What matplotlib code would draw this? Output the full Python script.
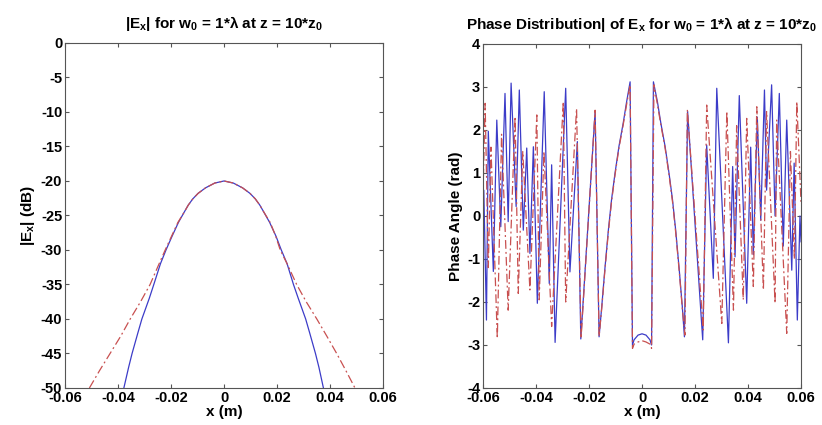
import matplotlib
matplotlib.use("Agg")
import matplotlib.pyplot as plt

plt.rcParams['font.family'] = ['Liberation Sans', 'DejaVu Sans']
plt.rcParams['font.weight'] = 'bold'
plt.rcParams['axes.unicode_minus'] = False
plt.rcParams['mathtext.fontset'] = 'custom'
plt.rcParams['mathtext.rm'] = 'Liberation Sans:bold'
plt.rcParams['mathtext.it'] = 'Liberation Sans:bold'
plt.rcParams['mathtext.bf'] = 'Liberation Sans:bold'
plt.rcParams['mathtext.default'] = 'rm'

# |Ex| in dB
mag_blue_x = [-0.0378, -0.0360, -0.0347, -0.0325, -0.0310, -0.0282, -0.0265, -0.0240, -0.0219,
              -0.0196, -0.0172, -0.0150, -0.0135, -0.0118, -0.0098, -0.0070, -0.0035, 0.0,
              0.0035, 0.0070, 0.0098, 0.0118, 0.0135, 0.0150, 0.0172, 0.0196, 0.0216,
              0.0238, 0.0262, 0.0280, 0.0308, 0.0323, 0.0345, 0.0358, 0.0375]
mag_blue_y = [-50, -47, -45, -42, -40, -37, -35, -32, -30,
              -28, -26, -24.5, -23.5, -22.6, -21.8, -21.0, -20.3, -20.0,
              -20.3, -21.0, -21.8, -22.6, -23.5, -24.5, -26, -28, -30,
              -32, -35, -37, -40, -42, -45, -47, -50]
mag_red_x = [-0.0508, -0.0470, -0.0430, -0.0390, -0.0354, -0.0315, -0.0279, -0.0245, -0.0222,
             -0.0198, -0.0174, -0.0150, -0.0135, -0.0118, -0.0098, -0.0070, -0.0035, 0.0,
             0.0035, 0.0070, 0.0098, 0.0118, 0.0135, 0.0150, 0.0174, 0.0195, 0.0212,
             0.0238, 0.0274, 0.0310, 0.0350, 0.0388, 0.0425, 0.0460, 0.0494]
mag_red_y = [-50, -47.5, -45, -42.5, -40, -37.5, -35, -32, -30,
             -28, -26, -24.5, -23.5, -22.6, -21.8, -21.0, -20.3, -20.0,
             -20.3, -21.0, -21.8, -22.6, -23.5, -24.5, -26, -28, -30,
             -32, -35, -37.5, -40, -42.5, -45, -47.5, -50]

# phase (rad)
ph_blue_x = [-0.0600, -0.0597, -0.0587, -0.0580, -0.0561, -0.0548, -0.0533, -0.0517, -0.0505,
             -0.0494, -0.0475, -0.0463, -0.0448, -0.0435, -0.0423, -0.0410, -0.0395, -0.0369,
             -0.0350, -0.0341, -0.0328, -0.0288, -0.0272, -0.0244, -0.0231, -0.0177, -0.0162,
             -0.0152, -0.0140, -0.0127, -0.0115, -0.0102, -0.0087, -0.0071, -0.0058, -0.0045,
             -0.0036, -0.0030, -0.0015, 0.0,
             0.0015, 0.0030, 0.0036, 0.0043, 0.0058, 0.0071, 0.0087, 0.0102, 0.0115,
             0.0127, 0.0140, 0.0152, 0.0160,
             0.0172, 0.0229, 0.0244, 0.0269, 0.0282, 0.0326, 0.0342, 0.0351, 0.0367,
             0.0395, 0.0410, 0.0420, 0.0435, 0.0448, 0.0462, 0.0470, 0.0489, 0.0502,
             0.0518, 0.0533, 0.0546, 0.0565, 0.0574, 0.0586, 0.0596, 0.0600]
ph_blue_y = [-0.40, 0.60, -2.42, 1.97, -1.29, 2.23, -0.25, 2.85, -0.13,
             3.09, 0.22, 2.93, -0.33, 1.58, -0.87, 1.61, -2.03, 2.89,
             -1.57, 1.19, -2.94, 2.97, -1.30, 1.73, -2.86, 2.43, -2.81,
             -2.11, -1.22, -0.33, 0.38, 0.99, 1.62, 2.16, 2.66, 3.12,
             -3.00, -2.88, -2.77, -2.74,
             -2.77, -2.88, -3.00, 3.12, 2.66, 2.16, 1.62, 0.99, 0.38,
             -0.33, -1.22, -2.11, -2.81,
             2.43, -2.88, 1.65, -1.45, 2.97, -2.95, 1.15, -0.95, 2.80,
             -2.03, 1.60, -0.90, 2.30, -0.10, 2.93, 0.60, 3.05, 0.0,
             2.85, -0.70, 2.23, -1.26, 1.23, -2.42, 0.0, -0.60]
ph_red_x = [-0.0600, -0.0592, -0.0580, -0.0570, -0.0546, -0.0530, -0.0505, -0.0479, -0.0467,
            -0.0450, -0.0423, -0.0397, -0.0388, -0.0370, -0.0341, -0.0297, -0.0288, -0.0247,
            -0.0230, -0.0177, -0.0162, -0.0152, -0.0140, -0.0127, -0.0115, -0.0102, -0.0087,
            -0.0071, -0.0058, -0.0045, -0.0036,
            -0.0030, -0.0015, 0.0, 0.0015, 0.0030,
            0.0036, 0.0045, 0.0058, 0.0071, 0.0087, 0.0102, 0.0115,
            0.0127, 0.0140, 0.0152, 0.0162, 0.0171, 0.0231, 0.0244, 0.0301, 0.0320, 0.0345,
            0.0357, 0.0382, 0.0395, 0.0420, 0.0433, 0.0458, 0.0470, 0.0502, 0.0508,
            0.0546, 0.0560, 0.0575, 0.0584, 0.0600]
ph_red_y = [0.50, 2.62, -1.20, 1.60, -2.85, 1.90, -2.19, 2.31, -1.80,
            1.50, -1.72, 2.35, -1.95, 1.50, -2.57, 2.66, -2.00, 2.50,
            -2.85, 2.46, -2.80, -2.15, -1.26, -0.38, 0.33, 0.95, 1.58,
            2.12, 2.60, 3.05, -3.08,
            -2.98, -2.93, -2.90, -2.93, -2.98,
            -3.08, 3.05, 2.60, 2.12, 1.58, 0.95, 0.33,
            -0.38, -1.26, -2.15, -2.77, 2.47, -2.65, 2.58, -2.50, 2.43, -2.19,
            2.10, -1.95, 2.27, -1.64, 2.54, -1.72, 2.43, -2.03, 2.23,
            -2.73, 1.50, -1.00, 2.66, 0.30]

x_ticks = [-0.06, -0.04, -0.02, 0, 0.02, 0.04, 0.06]
x_tick_labels = ['-0.06', '-0.04', '-0.02', '0', '0.02', '0.04', '0.06']

blue = '#3c3cc8'
red = '#c85050'
dashdot = (0, (7, 2.5, 1.5, 2.5))

fig = plt.figure(figsize=(8.22, 4.25), dpi=100)
ax1 = fig.add_axes([0.0791, 0.0871, 0.3869, 0.8118])
ax2 = fig.add_axes([0.5876, 0.0871, 0.3869, 0.8094])

ax1.plot(mag_blue_x, mag_blue_y, color=blue, lw=0.9)
ax1.plot(mag_red_x, mag_red_y, color=red, lw=0.9, linestyle=dashdot)
ax1.set_xlim(-0.06, 0.06)
ax1.set_ylim(-50, 0)
ax1.set_yticks(range(-50, 1, 5))
ax1.set_title('|E$_x$| for w$_0$ = 1*λ at z = 10*z$_0$', fontsize=11, fontweight='bold', pad=11)
ax1.set_ylabel('|E$_x$| (dB)', fontsize=11, fontweight='bold', labelpad=3)

ax2.plot(ph_blue_x, ph_blue_y, color=blue, lw=0.9)
ax2.plot(ph_red_x, ph_red_y, color=red, lw=0.9, linestyle=dashdot)
ax2.set_xlim(-0.06, 0.06)
ax2.set_ylim(-4, 4)
ax2.set_yticks(range(-4, 5, 1))
ax2.set_title('Phase Distribution| of E$_x$ for w$_0$ = 1*λ at z = 10*z$_0$', fontsize=11, fontweight='bold', pad=11)
ax2.set_ylabel('Phase Angle (rad)', fontsize=11, fontweight='bold', labelpad=3)

for ax in (ax1, ax2):
    ax.set_xticks(x_ticks)
    ax.set_xticklabels(x_tick_labels)
    ax.set_xlabel('x (m)', fontsize=11, fontweight='bold', labelpad=0)
    ax.tick_params(direction='in', top=True, right=True, labelsize=10.5, length=3,
                   color='#555555', pad=2)
    for s in ax.spines.values():
        s.set_color('#555555')
        s.set_linewidth(0.8)
    for lab in ax.get_xticklabels() + ax.get_yticklabels():
        lab.set_fontweight('bold')

fig.savefig('out.png', dpi=100)
